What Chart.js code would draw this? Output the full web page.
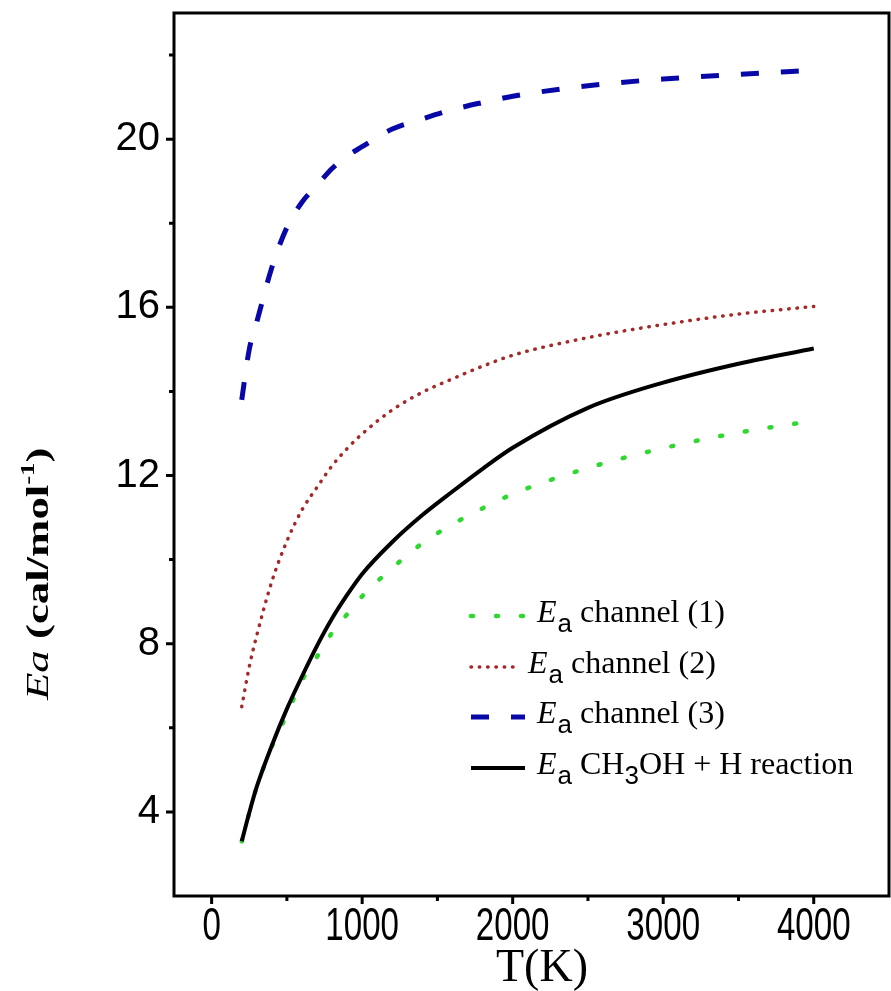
<!DOCTYPE html>
<html>
<head>
<meta charset="utf-8">
<script src="https://cdn.jsdelivr.net/npm/chart.js@4.4.1/dist/chart.umd.min.js"></script>
<style>
  html, body { margin: 0; padding: 0; background: #fff; }
  #wrap { width: 891px; height: 991px; position: relative; }
</style>
</head>
<body>
<div id="wrap"><canvas id="eaChart"></canvas></div>
<script>
// Temperatures (K) and activation energies
const temps = [200, 250, 300, 400, 500, 600, 700, 800, 900, 1000, 1200, 1400, 1600, 1800, 2000, 2500, 3000, 3500, 4000];
const channel1 = [3.3, 3.98, 4.6, 5.55, 6.32, 7.12, 7.69, 8.26, 8.7, 9.13, 9.8, 10.39, 10.84, 11.22, 11.56, 12.18, 12.65, 13.02, 13.3];
const channel2 = [6.5, 7.45, 8.2, 9.48, 10.44, 11.18, 11.72, 12.23, 12.64, 12.99, 13.56, 13.98, 14.3, 14.6, 14.86, 15.28, 15.59, 15.84, 16.02];
const channel3 = [13.8, 15.0, 15.65, 16.95, 17.9, 18.5, 18.9, 19.3, 19.6, 19.82, 20.24, 20.48, 20.7, 20.87, 21.02, 21.27, 21.43, 21.54, 21.64];
const overall = [3.3, 3.98, 4.6, 5.58, 6.45, 7.22, 7.95, 8.6, 9.16, 9.66, 10.42, 11.06, 11.62, 12.16, 12.66, 13.61, 14.21, 14.66, 15.02];

const xMajorTicks = [0, 1000, 2000, 3000, 4000];
const xMinorTicks = [500, 1500, 2500, 3500];
const yMajorTicks = [4, 8, 12, 16, 20];
const yMinorTicks = [6, 10, 14, 18, 22];

const legendLabels = ['channel (1)', 'channel (2)', 'channel (3)', 'CH_3OH + H reaction'];

const SERIF = '"Liberation Serif", "Times New Roman", serif';
const SANS = '"Liberation Sans", Arial, sans-serif';

function pts(values) {
    return temps.map((t, i) => ({ x: t, y: values[i] }));
}

const styles = [
    { color: '#2fd82f', width: 4.5, dash: [2, 23], cap: 'round' },
    { color: '#a52828', width: 3.5, dash: [0.5, 7.8], cap: 'round' },
    { color: '#0808a8', width: 5, dash: [18, 22], cap: 'butt' },
    { color: '#000000', width: 4, dash: [], cap: 'butt' }
];

const seriesValues = [channel1, channel2, channel3, overall];

const datasets = seriesValues.map((vals, i) => ({
    label: legendLabels[i],
    data: pts(vals),
    borderColor: styles[i].color,
    borderWidth: styles[i].width,
    borderDash: styles[i].dash,
    borderCapStyle: styles[i].cap,
    pointRadius: 0,
    fill: false,
    cubicInterpolationMode: 'monotone',
    order: i === 3 ? 0 : 1
}));

// draw text with "_x" subscripts
function drawRich(ctx, text, x, y, size) {
    const parts = text.split(/_(\w)/);
    parts.forEach((p, i) => {
        if (i % 2 === 1) {
            ctx.font = (size - 6) + 'px ' + SANS;
            ctx.fillText(p, x, y + 10);
        } else {
            ctx.font = size + 'px ' + SERIF;
            ctx.fillText(p, x, y);
        }
        x += ctx.measureText(p).width;
    });
    return x;
}

const framePlugin = {
    id: 'framePlugin',
    afterDraw(chart) {
        const ctx = chart.ctx;
        const a = chart.chartArea;
        const xs = chart.scales.x, ys = chart.scales.y;
        ctx.save();
        ctx.strokeStyle = '#000';
        ctx.lineWidth = 3;
        ctx.strokeRect(a.left, a.top, a.right - a.left, a.bottom - a.top);

        // tick marks, outward
        ctx.beginPath();
        xMajorTicks.forEach(v => { const px = xs.getPixelForValue(v); ctx.moveTo(px, a.bottom); ctx.lineTo(px, a.bottom + 8); });
        xMinorTicks.forEach(v => { const px = xs.getPixelForValue(v); ctx.moveTo(px, a.bottom); ctx.lineTo(px, a.bottom + 5); });
        yMajorTicks.forEach(v => { const py = ys.getPixelForValue(v); ctx.moveTo(a.left, py); ctx.lineTo(a.left - 8, py); });
        yMinorTicks.forEach(v => { const py = ys.getPixelForValue(v); ctx.moveTo(a.left, py); ctx.lineTo(a.left - 5, py); });
        ctx.stroke();

        // x tick labels (narrow, tall digits as in the figure)
        ctx.fillStyle = '#000';
        ctx.textAlign = 'center';
        ctx.textBaseline = 'alphabetic';
        ctx.font = '46px ' + SANS;
        xMajorTicks.forEach(v => {
            const px = xs.getPixelForValue(v);
            ctx.save();
            ctx.translate(px, 940);
            ctx.scale(0.72, 1);
            ctx.fillText(String(v), 0, 0);
            ctx.restore();
        });

        // legend
        ctx.textAlign = 'left';
        const rowY = [616, 667, 717, 768];
        datasets.forEach((ds, i) => {
            const y = rowY[i];
            const x1 = i === 1 ? 520 : 525;
            ctx.save();
            ctx.strokeStyle = ds.borderColor;
            ctx.lineWidth = ds.borderWidth;
            ctx.setLineDash(ds.borderDash);
            ctx.lineCap = ds.borderCapStyle;
            ctx.beginPath();
            ctx.moveTo(471, y);
            ctx.lineTo(x1, y);
            ctx.stroke();
            ctx.restore();

            let tx = i === 1 ? 528 : 537;
            const base = y + 6;
            ctx.font = 'italic 32px ' + SERIF;
            ctx.fillText('E', tx, base);
            tx += ctx.measureText('E').width + 1;
            ctx.font = '26px ' + SANS;
            ctx.fillText('a', tx, base + 10);
            tx += ctx.measureText('a').width;
            drawRich(ctx, ' ' + ds.label, tx, base, 32);
        });

        // x axis title
        ctx.font = '46px ' + SERIF;
        ctx.textAlign = 'center';
        ctx.fillText('T(K)', 542, 981);

        // y axis title (rotated)
        ctx.translate(48, 700);
        ctx.rotate(-Math.PI / 2);
        ctx.scale(1.4, 1);
        ctx.textAlign = 'left';
        let tx = 0;
        const piece = (txt, font, dy) => {
            ctx.font = font;
            ctx.fillText(txt, tx, dy);
            tx += ctx.measureText(txt).width;
        };
        piece('Ea', 'italic 32px ' + SERIF, 0);
        piece(' (cal/mol', 'bold 32px ' + SERIF, 0);
        piece('-1', 'bold 19px ' + SERIF, -14);
        piece(')', 'bold 32px ' + SERIF, 0);
        ctx.restore();
    }
};

const ctx = document.getElementById('eaChart').getContext('2d');
new Chart(ctx, {
    type: 'line',
    data: { datasets: datasets },
    options: {
        responsive: true,
        maintainAspectRatio: false,
        animation: false,
        layout: { padding: { top: 13, right: 2, left: 0, bottom: 0 } },
        plugins: {
            legend: { display: false },
            tooltip: { enabled: false }
        },
        scales: {
            x: {
                type: 'linear',
                min: -250,
                max: 4500,
                grid: { display: false },
                border: { display: false },
                afterBuildTicks: s => { s.ticks = xMajorTicks.map(v => ({ value: v })); },
                afterFit: s => { s.height = 95; s.paddingLeft = 0; s.paddingRight = 0; },
                ticks: { display: false }
            },
            y: {
                type: 'linear',
                min: 2,
                max: 23,
                grid: { display: false },
                border: { display: false },
                afterBuildTicks: s => { s.ticks = yMajorTicks.map(v => ({ value: v })); },
                afterFit: s => { s.width = 174; s.paddingTop = 0; s.paddingBottom = 0; },
                ticks: {
                    color: '#000',
                    padding: 6,
                    font: { family: SANS, size: 40 }
                }
            }
        }
    },
    plugins: [framePlugin]
});
</script>
</body>
</html>
